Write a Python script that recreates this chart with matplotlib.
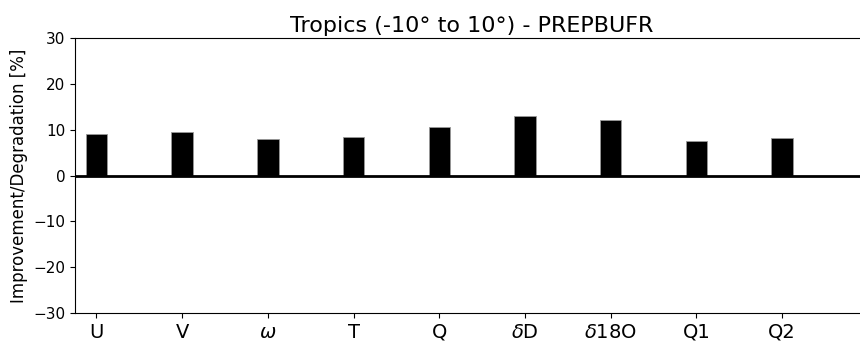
import matplotlib
matplotlib.use("Agg")
import matplotlib.pyplot as plt

variables = ["U", "V", r"$\omega$", "T", "Q", r"$\delta$D", r"$\delta$18O", "Q1", "Q2"]
improvement = [9.1, 9.6, 7.9, 8.3, 10.5, 13.0, 12.1, 7.6, 8.1]


def main():
    fig = plt.figure(figsize=(8.6, 3.42), dpi=100)
    # right spine sits just outside the picture in the original
    ax = fig.add_axes([0.0872, 0.0848, 0.922, 0.804])
    ax.spines["right"].set_visible(False)

    x = list(range(len(variables)))
    ax.bar(x, improvement, width=0.25, color="black", edgecolor="#999999", linewidth=0.6)
    ax.axhline(0, color="black", linewidth=2)

    ax.set_xlim(-0.25, 9)
    ax.set_ylim(-30, 30)
    ax.set_yticks([-30, -20, -10, 0, 10, 20, 30])
    ax.set_xticks(x)
    ax.set_xticklabels(variables, fontsize=14)
    ax.tick_params(axis="y", labelsize=11)
    ax.set_ylabel("Improvement/Degradation [%]", fontsize=12)
    ax.set_title("Tropics (-10\u00b0 to 10\u00b0) - PREPBUFR", fontsize=16, pad=4)

    fig.savefig("out.png", dpi=100)


if __name__ == "__main__":
    main()
